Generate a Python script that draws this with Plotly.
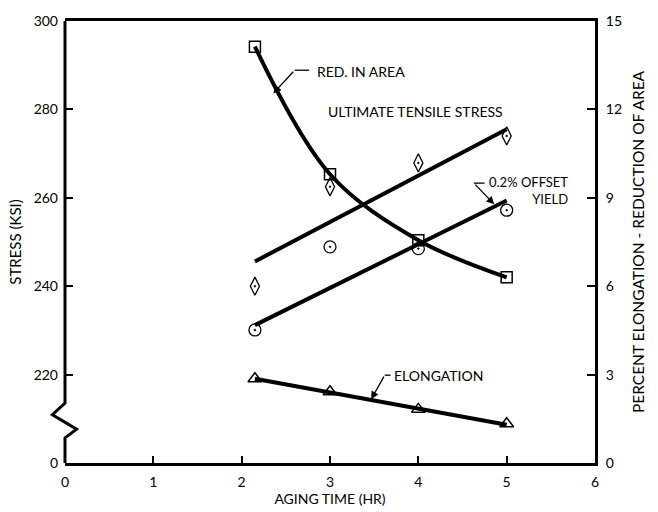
import plotly.graph_objects as go

# ---- data ----
aging_hr = [2.15, 3, 4, 5]
uts_ksi = [240.0, 262.5, 267.9, 274.0]          # ultimate tensile stress (eye markers)
yield_ksi = [230.1, 248.9, 248.5, 257.2]        # 0.2% offset yield (circles)
red_area_pct = [14.13, 9.8, 7.56, 6.30]         # reduction in area (squares)
elong_pct = [2.86, 2.42, 1.82, 1.33]            # elongation (triangles)

fit_x = [2.15, 5]
uts_fit = [245.6, 275.5]
yield_fit = [231.2, 259.4]
elong_fit = [2.86, 1.30]

stress_ticks = [200, 220, 240, 260, 280, 300]
stress_labels = ["0", "220", "240", "260", "280", "300"]
pct_ticks = [0, 3, 6, 9, 12, 15]
time_ticks = [0, 1, 2, 3, 4, 5, 6]

FONT = "Lato"
W, H = 658, 512
L, R, T, B = 65, 46, 16, 38
PW, PH = W - L - R, H - T - B


def px_x(px):
    return (px - L) / PW * 6


def px_y(py):
    return 300 - (py - T) / PH * 100


def pp_x(px):
    return (px - L) / PW


def pp_y(py):
    return (H - B - py) / PH


fig = go.Figure()
line = dict(color="black", width=4)

fig.add_trace(go.Scatter(x=fit_x, y=uts_fit, mode="lines", line=line, showlegend=False))
fig.add_trace(go.Scatter(x=fit_x, y=yield_fit, mode="lines", line=line, showlegend=False))
fig.add_trace(go.Scatter(x=aging_hr, y=red_area_pct, yaxis="y2", mode="lines",
                         line=dict(color="black", width=4, shape="spline", smoothing=1.0),
                         showlegend=False))
fig.add_trace(go.Scatter(x=fit_x, y=elong_fit, yaxis="y2", mode="lines", line=line,
                         showlegend=False))

fig.add_trace(go.Scatter(x=aging_hr, y=uts_ksi, mode="markers", showlegend=False,
                         marker=dict(symbol="diamond-tall-open-dot", size=13, color="black",
                                     line=dict(color="black", width=1.3))))
fig.add_trace(go.Scatter(x=aging_hr, y=yield_ksi, mode="markers", showlegend=False,
                         marker=dict(symbol="circle-open-dot", size=12, color="black",
                                     line=dict(color="black", width=1.3))))
fig.add_trace(go.Scatter(x=aging_hr, y=red_area_pct, yaxis="y2", mode="markers", showlegend=False,
                         marker=dict(symbol="square-open", size=11, color="black",
                                     line=dict(color="black", width=1.5))))
fig.add_trace(go.Scatter(x=aging_hr, y=elong_pct, yaxis="y2", mode="markers", showlegend=False,
                         marker=dict(symbol="triangle-up-open", size=12, color="black",
                                     line=dict(color="black", width=1.5))))

tickfont = dict(family=FONT, size=14, color="black")
fig.update_layout(
    width=W, height=H,
    margin=dict(l=L, r=R, t=T, b=B),
    paper_bgcolor="white", plot_bgcolor="white",
    font=dict(family=FONT, size=13, color="black"),
    xaxis=dict(range=[0, 6], tickvals=time_ticks, ticks="inside", ticklen=7, tickwidth=1.5,
               tickcolor="black", showline=True, linewidth=3, linecolor="black", mirror=True,
               showgrid=False, zeroline=False, tickfont=tickfont, ticklabelstandoff=4,
               title=dict(text="AGING TIME (HR)", font=dict(family=FONT, size=14), standoff=0)),
    yaxis=dict(range=[200, 300], tickvals=stress_ticks, ticktext=stress_labels,
               ticks="inside", ticklen=8, tickwidth=1.5, tickcolor="black",
               showline=False, showgrid=False, zeroline=False, tickfont=tickfont,
               ticklabelstandoff=6,
               title=dict(text="STRESS (KSI)", font=dict(family=FONT, size=15), standoff=8)),
    yaxis2=dict(range=[0, 15], tickvals=pct_ticks, overlaying="y", side="right",
                ticks="inside", ticklen=8, tickwidth=1.5, tickcolor="black",
                showline=True, linewidth=3, linecolor="black", showgrid=False, zeroline=False,
                tickfont=tickfont, ticklabelstandoff=5,
                title=dict(text="PERCENT ELONGATION - REDUCTION OF AREA",
                           font=dict(family=FONT, size=15.5), standoff=13)),
)

# left axis line with break symbol
path = (f"M 0,1 L 0,{pp_y(412):.4f} L {pp_x(52):.4f},{pp_y(424):.4f} "
        f"L {pp_x(77):.4f},{pp_y(439):.4f} L 0,{pp_y(448):.4f} L 0,0")
fig.add_shape(type="path", path=path, xref="paper", yref="paper",
              line=dict(color="black", width=3))


def label(text, px, py, anchor="left", size=14):
    fig.add_annotation(x=pp_x(px), y=pp_y(py), xref="paper", yref="paper", text=text,
                       showarrow=False, xanchor=anchor, yanchor="middle",
                       font=dict(family=FONT, size=size, color="black"))


def leader(x0, y0, x1, y1, hx, hy):
    fig.add_shape(type="line", x0=pp_x(x0), y0=pp_y(y0), x1=pp_x(x1), y1=pp_y(y1),
                  xref="paper", yref="paper", line=dict(color="black", width=1.3))
    fig.add_annotation(x=px_x(hx), y=px_y(hy), xref="x", yref="y", ax=px_x(x1), ay=px_y(y1),
                       axref="x", ayref="y", text="", showarrow=True, arrowhead=2,
                       arrowsize=1.2, arrowwidth=1.3, arrowcolor="black")


label("RED. IN AREA", 323, 68)
leader(317, 67, 302, 67, 280, 91)
label("ULTIMATE TENSILE STRESS", 334, 110)
fig.add_annotation(x=pp_x(586), y=pp_y(192), xref="paper", yref="paper",
                   text="0.2% OFFSET<br>YIELD", align="right", showarrow=False,
                   xanchor="right", yanchor="middle",
                   font=dict(family=FONT, size=13, color="black"))
leader(498, 184, 487, 184, 508, 206)
label("ELONGATION", 403, 383)
leader(401, 383, 395, 383, 381, 408)

fig.write_html("out.html")
